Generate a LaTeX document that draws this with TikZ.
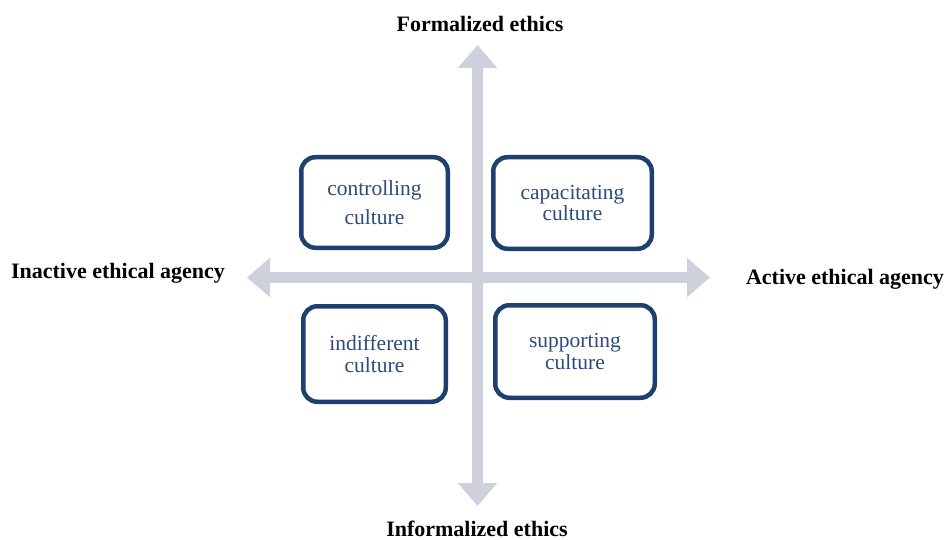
\documentclass[tikz,border=0pt]{standalone}
\usepackage{fontspec}
\setmainfont{Liberation Serif}
\usetikzlibrary{arrows.meta}
\definecolor{axisgrey}{RGB}{206,209,219}
\definecolor{boxnavy}{RGB}{30,64,112}
\definecolor{textnavy}{RGB}{44,74,122}
\begin{document}
\begin{tikzpicture}[x=1pt,y=-1pt,
  axis/.style={draw=axisgrey,line width=11pt,
    {Triangle[width=38pt,length=23pt]}-{Triangle[width=38pt,length=23pt]}},
  quadrant/.style={draw=boxnavy,line width=4.5pt,rounded corners=14pt,
    fill=white,align=center,text=textnavy,inner sep=0pt,
    font=\fontsize{21.5}{23}\selectfont},
  axislabel/.style={font=\fontsize{22}{24}\selectfont\bfseries,inner sep=0pt}]
\useasboundingbox (0,0) rectangle (945,540);

% axis end points
\coordinate (top) at (477.5,45);
\coordinate (bottom) at (477.5,506);
\coordinate (left) at (247,277.5);
\coordinate (right) at (710,277.5);

\draw[axis] (left) -- (right);
\draw[axis] (bottom) -- (top);

% axis labels
\node[axislabel] (formal) at (480,24) {Formalized ethics};
\node[axislabel] (informal) at (477,529) {Informalized ethics};
\node[axislabel] (inactive) at (118,273) {Inactive ethical agency};
\node[axislabel] (active) at (845,279) {Active ethical agency};

% the four cultures
\node[quadrant,minimum width=146.5pt,minimum height=90.5pt] (controlling)
  at (374.5,202.5) {\raisebox{-1.5pt}{controlling}\\[7pt]culture};
\node[quadrant,minimum width=158.5pt,minimum height=91.5pt] (capacitating)
  at (572.5,203) {\raisebox{-1.5pt}{capacitating}\\culture};
\node[quadrant,minimum width=142.5pt,minimum height=95.5pt] (indifferent)
  at (374.5,354) {\raisebox{-1.5pt}{indifferent}\\culture};
\node[quadrant,minimum width=159.5pt,minimum height=92.5pt] (supporting)
  at (575,351.5) {\raisebox{-1.5pt}{supporting}\\culture};
\end{tikzpicture}
\end{document}
